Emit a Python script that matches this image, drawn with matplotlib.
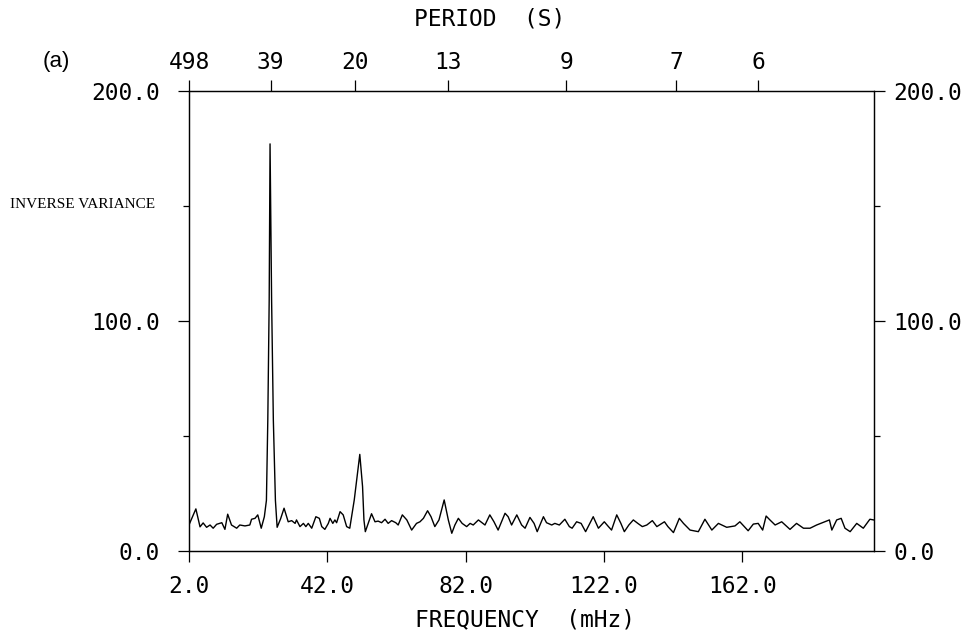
import matplotlib

matplotlib.use("Agg")
from matplotlib import pyplot as plt
from matplotlib.ticker import FixedLocator

# frequency (mHz) and inverse variance
freq_mhz = [
    2.0, 4.0, 5.2, 6.1, 7.1, 8.1, 9.0, 10.0, 11.5, 12.4, 13.2, 14.3, 15.8, 16.7,
    18.2, 19.6, 20.1, 21.1, 21.9, 22.9, 23.8, 24.4, 24.8, 25.2, 25.45, 25.9,
    26.4, 27.0, 27.5, 28.5, 29.5, 30.7, 31.7, 32.7, 33.1, 34.1, 35.1, 35.8,
    36.5, 37.5, 38.7, 39.7, 40.4, 41.3, 42.3, 42.8, 43.6, 44.2, 44.7, 45.7,
    46.6, 47.6, 48.5, 49.8, 50.6, 51.4, 52.2, 52.6, 53.0, 54.8, 55.8, 56.7,
    57.7, 58.7, 59.6, 60.6, 61.8, 62.5, 63.7, 65.0, 66.4, 67.8, 68.8, 69.8,
    71.0, 72.0, 73.1, 74.3, 75.8, 77.0, 78.0, 78.9, 79.9, 81.0, 82.3, 83.3,
    84.2, 85.7, 87.6, 89.0, 90.2, 91.4, 93.4, 94.3, 95.3, 96.8, 98.2, 99.2,
    100.6, 101.8, 102.7, 104.5, 105.4, 106.9, 107.8, 109.1, 110.7, 112.0,
    112.8, 114.1, 115.4, 116.7, 118.9, 120.4, 122.1, 123.3, 124.2, 125.7,
    126.9, 127.9, 129.2, 130.5, 131.8, 133.1, 134.4, 136.0, 137.3, 139.5,
    140.5, 142.1, 143.8, 145.0, 146.9, 149.3, 151.2, 153.2, 155.1, 157.5,
    159.9, 161.3, 163.7, 165.2, 166.6, 167.9, 168.9, 170.0, 171.5, 173.4,
    175.8, 177.7, 179.7, 181.6, 183.5, 185.9, 187.2, 187.9, 189.3, 190.6,
    191.7, 193.2, 195.1, 197.0, 198.9, 200.0,
]
inverse_variance = [
    11.3, 18.3, 10.5, 12.2, 10.3, 11.3, 9.9, 11.6, 12.3, 9.4, 16.0, 11.3, 9.9, 11.3,
    10.9, 11.3, 13.8, 14.2, 15.7, 9.9, 14.9, 22.0, 57.0, 109.0, 177.0, 109.0,
    57.0, 22.0, 10.3, 14.0, 18.6, 12.7, 13.2, 12.0, 13.5, 10.6, 12.0, 10.6,
    12.0, 9.9, 14.9, 14.2, 10.6, 9.4, 12.0, 14.2, 12.0, 13.5, 12.3, 17.1,
    15.7, 10.6, 9.9, 22.2, 32.0, 42.0, 28.0, 13.5, 8.4, 16.2, 12.7, 13.0,
    12.3, 13.8, 12.0, 13.2, 12.3, 11.3, 15.7, 13.5, 9.1, 12.0, 12.7, 14.2,
    17.5, 14.9, 10.6, 13.5, 22.2, 13.5, 7.7, 11.3, 14.2, 12.0, 10.6, 12.0,
    11.3, 13.5, 11.3, 15.7, 12.7, 9.1, 16.4, 14.9, 11.3, 15.7, 11.3, 9.9,
    14.6, 12.0, 8.4, 14.9, 12.3, 11.3, 12.0, 11.3, 13.8, 10.6,
    9.9, 12.7, 12.0, 8.4, 14.9, 9.9, 12.7, 10.6, 9.1, 15.7,
    12.0, 8.4, 11.3, 13.5, 12.0, 10.6, 11.3, 13.2, 10.6, 12.7,
    10.6, 8.0, 14.2, 12.0, 9.1, 8.4, 13.8, 9.1, 12.0, 10.3,
    10.9, 12.7, 8.8, 11.7, 12.0, 9.1, 15.2, 13.5, 11.3, 12.7,
    9.4, 12.0, 9.9, 9.9, 11.3, 12.7, 13.5, 9.1, 13.5, 14.2,
    9.9, 8.4, 12.0, 9.9, 13.8, 13.5,
]

freq_ticks = [2.0, 42.0, 82.0, 122.0, 162.0]
period_ticks = [498, 39, 20, 13, 9, 7, 6]
y_major_ticks = [0.0, 100.0, 200.0]
y_minor_ticks = [50.0, 150.0]

TICK_FONT = {"family": "DejaVu Sans Mono", "size": 16.5}


def style_axis(axis, pad):
    axis.tick_params(which="major", direction="out", length=8, width=0.9, pad=pad)
    axis.tick_params(which="minor", direction="out", length=4.3, width=0.9)


def main():
    fig = plt.figure(figsize=(9.74, 6.31), dpi=100)
    ax = fig.add_axes([0.194, 0.1268, 0.703, 0.729])

    ax.plot(freq_mhz, inverse_variance, color="black", linewidth=1.0)
    ax.set_xlim(2.0, 200.0)
    ax.set_ylim(0.0, 200.0)

    for spine in ax.spines.values():
        spine.set_linewidth(0.9)

    ax.set_xticks(freq_ticks)
    ax.set_xticklabels([f"{v:.1f}" for v in freq_ticks], fontdict=TICK_FONT)
    ax.set_yticks(y_major_ticks)
    ax.set_yticklabels([f"{v:.1f}" for v in y_major_ticks], fontdict=TICK_FONT)
    ax.yaxis.set_minor_locator(FixedLocator(y_minor_ticks))
    style_axis(ax, 13)
    ax.tick_params(axis="x", pad=9)

    # right-hand copy of the y axis
    ax_r = ax.twinx()
    ax_r.set_ylim(ax.get_ylim())
    ax_r.set_yticks(y_major_ticks)
    ax_r.set_yticklabels([f"{v:.1f}" for v in y_major_ticks], fontdict=TICK_FONT)
    ax_r.yaxis.set_minor_locator(FixedLocator(y_minor_ticks))
    style_axis(ax_r, 6)

    # period scale on top
    ax_t = ax.twiny()
    ax_t.set_xlim(ax.get_xlim())
    ax_t.set_xticks([1000.0 / p for p in period_ticks])
    ax_t.set_xticklabels([str(p) for p in period_ticks], fontdict=TICK_FONT)
    style_axis(ax_t, 4.5)

    fig.text(0.503, 0.97, "PERIOD  (S)", ha="center", va="center", **TICK_FONT)
    fig.text(0.539, 0.018, "FREQUENCY  (mHz)", ha="center", va="center", **TICK_FONT)
    fig.text(0.044, 0.902, "(a)", ha="left", va="center",
             family="Liberation Sans", size=16)
    fig.text(0.01, 1 - 205 / 631, "INVERSE VARIANCE", ha="left", va="center",
             family="Liberation Serif", size=11)

    fig.savefig("out.png", dpi=100)
    plt.close(fig)


if __name__ == "__main__":
    main()
